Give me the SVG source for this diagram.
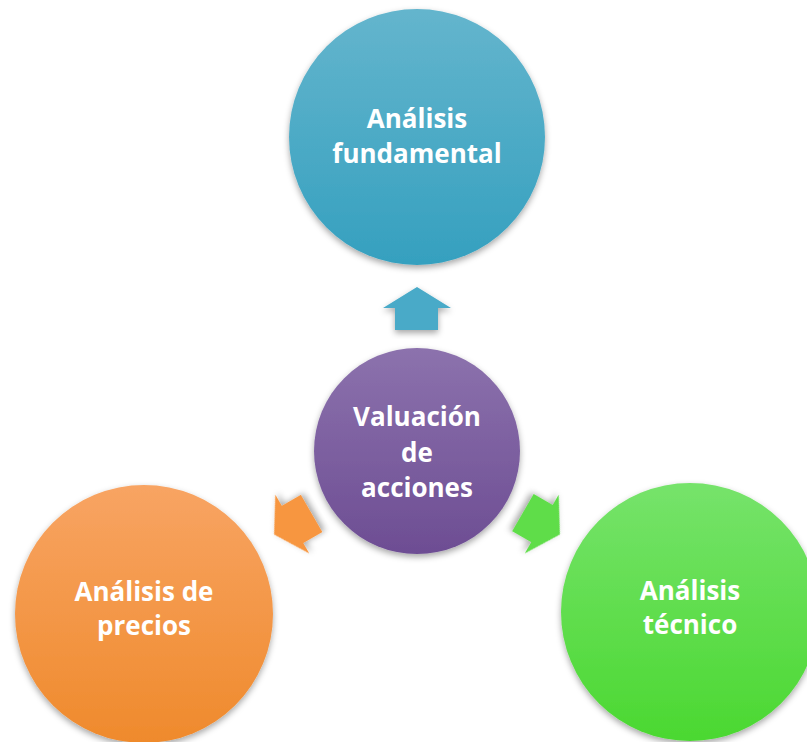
<svg xmlns="http://www.w3.org/2000/svg" width="807" height="742" viewBox="0 0 807 742">
<defs>
<linearGradient id="gBlue" x1="0" y1="0" x2="0" y2="1"><stop offset="0" stop-color="#64b5cd"/><stop offset="1" stop-color="#35a0bf"/></linearGradient>
<linearGradient id="gPurple" x1="0" y1="0" x2="0" y2="1"><stop offset="0" stop-color="#8c72ad"/><stop offset="1" stop-color="#6d4d93"/></linearGradient>
<linearGradient id="gOrange" x1="0" y1="0" x2="0" y2="1"><stop offset="0" stop-color="#f8a463"/><stop offset="1" stop-color="#ef8a2c"/></linearGradient>
<linearGradient id="gGreen" x1="0" y1="0" x2="0" y2="1"><stop offset="0" stop-color="#76e36b"/><stop offset="1" stop-color="#4bd831"/></linearGradient>
<filter id="sh" x="-20%" y="-20%" width="140%" height="140%"><feDropShadow dx="0" dy="3" stdDeviation="3" flood-color="#000" flood-opacity="0.35"/></filter>
<path id="arrow" d="M417,287 L451,308 L438,308 L438,330 L395,330 L395,308 L383,308 Z"/>
</defs>
<style>
text{font-family:"Open Sans","Liberation Sans",sans-serif;font-weight:bold;font-size:26px;fill:#fff;text-anchor:middle}
</style>
<g id="connectors">
<use href="#arrow" fill="#48aac8" filter="url(#sh)"/>
<use href="#arrow" fill="#f7963f" filter="url(#sh)" transform="rotate(-120 417 452)"/>
<use href="#arrow" fill="#5fdd48" filter="url(#sh)" transform="rotate(120 417 452)"/>
</g>
<g id="node-fundamental">
<circle cx="417" cy="137" r="128" fill="url(#gBlue)" filter="url(#sh)"/>
<text x="417" y="128">Análisis</text>
<text x="417" y="163">fundamental</text>
</g>
<g id="node-valuacion">
<circle cx="417" cy="451" r="103" fill="url(#gPurple)" filter="url(#sh)"/>
<text x="417" y="426">Valuación</text>
<text x="417" y="462">de</text>
<text x="417" y="497">acciones</text>
</g>
<g id="node-precios">
<circle cx="144" cy="614" r="129" fill="url(#gOrange)" filter="url(#sh)"/>
<text x="144" y="601">Análisis de</text>
<text x="144" y="635">precios</text>
</g>
<g id="node-tecnico">
<circle cx="690" cy="612" r="129" fill="url(#gGreen)" filter="url(#sh)"/>
<text x="690" y="600">Análisis</text>
<text x="690" y="634">técnico</text>
</g>
</svg>
